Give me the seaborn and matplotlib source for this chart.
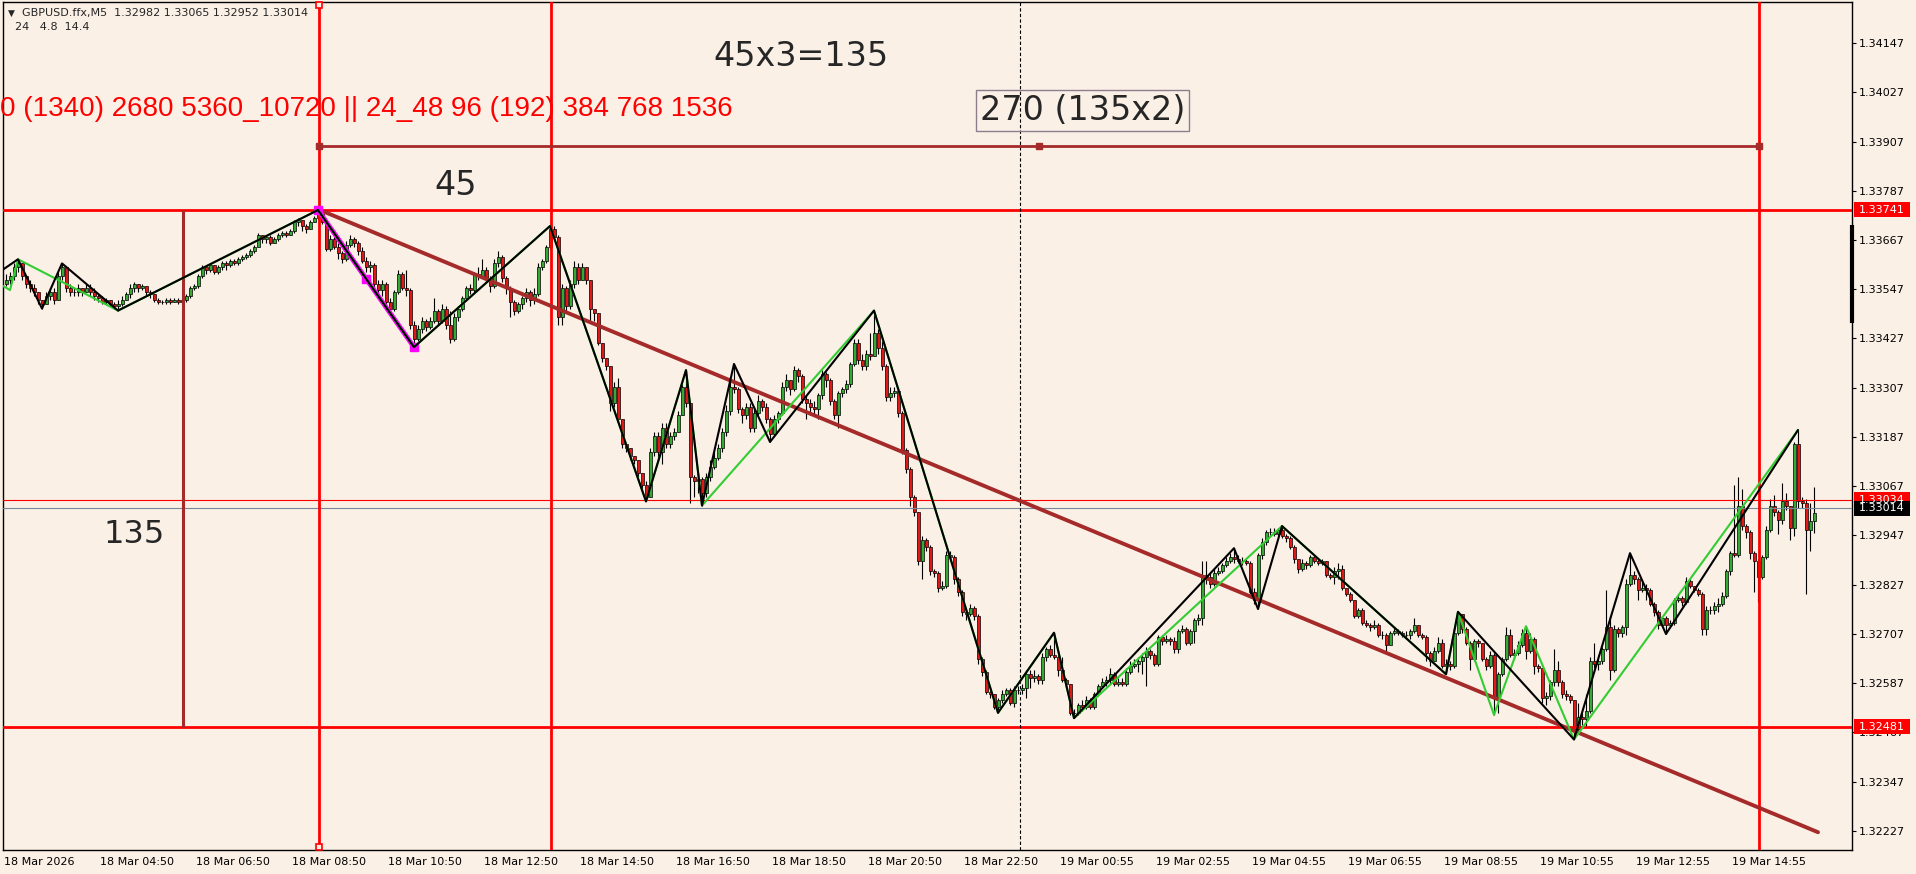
import numpy as np
import pandas as pd
import matplotlib
matplotlib.use("Agg")
import matplotlib.pyplot as plt
from matplotlib import transforms
from matplotlib.patches import Rectangle
import seaborn as sns

# ---- data (prices in pips above 1.32000) ----
symbol_info = "GBPUSD.ffx,M5  1.32982 1.33065 1.32952 1.33014"
indicator_info = "24   4.8  14.4"

first_open = 156
closes = [
    157, 158, 160, 161, 158, 156, 155, 154, 152, 151,
    153, 154, 152, 158, 160, 155, 154, 154, 155, 154,
    155, 154, 153, 152.5, 151.5, 152, 151, 150.5, 151, 152,
    153.5, 155, 156, 155, 155.5, 154, 153.5, 152, 151.5, 151.5,
    152, 151.5, 152, 151.5, 152, 153, 155, 155.5, 158, 160,
    159.5, 160.5, 159, 160, 161, 160.5, 161.5, 161, 162, 162.5,
    163, 164, 165, 168, 167, 167.5, 166, 167, 168, 168.5,
    168, 169, 171, 171.5, 170, 169.5, 171, 172, 173, 171,
    164.5, 167, 165, 163.5, 162, 165.5, 167, 166, 164, 161.5,
    160, 160.5, 156, 154.5, 156, 151.5, 150, 154, 158.5, 155,
    154.5, 146, 142.5, 145, 147, 145.5, 147, 149.5, 147, 150,
    146, 142.5, 148, 150, 152.5, 155, 154.5, 158.5, 158, 159.5,
    157.5, 155.5, 161, 162.5, 157.5, 155, 151.5, 149.5, 151, 152.5,
    154, 152, 153.5, 160, 161.5, 165, 169.5, 167.5, 148, 155,
    150.5, 156, 160, 157, 160, 157, 150, 149, 141.5, 138,
    136, 127, 131, 123, 117, 116, 114, 113, 110, 107,
    104, 115, 119, 115, 121, 117, 119, 120, 124, 131,
    127, 109, 108, 108.5, 105, 109, 111.5, 113.5, 116, 120,
    125, 131, 130.5, 125.5, 124, 126, 121, 124.5, 127.5, 126,
    123, 119.5, 123, 124.5, 131, 132.5, 130.5, 135, 133.5, 128,
    127, 126, 125.5, 129, 134, 132.5, 127.5, 124, 129.5, 130.5,
    131.5, 136.5, 141.5, 137.5, 136, 139, 138.5, 144, 140.5, 136,
    128.5, 129.5, 130, 124.5, 115.5, 111, 104, 100.5, 88.5, 93.5,
    92, 86, 85.5, 82, 82.5, 90, 89.5, 84, 81, 76,
    75.5, 77, 75, 64.5, 61.5, 56.5, 56, 53, 54.5, 56,
    57, 54, 57, 57, 57.5, 61, 60, 60.5, 59.5, 65,
    67, 65.5, 65, 62, 59.5, 58.5, 51.5, 51.5, 53.5, 53,
    54.5, 53, 56, 58, 59, 59.5, 61, 58.5, 59, 58.5,
    61.5, 63, 63.5, 64, 65, 66.5, 65.5, 63.5, 70, 69,
    69.5, 69, 67, 71.5, 72, 68.5, 71.5, 74, 74.5, 85,
    84.5, 83, 85.5, 86, 87.5, 88.5, 89.5, 89, 88.5, 88.5,
    88, 81, 79, 90, 93, 95.5, 95.5, 95, 96, 94.5,
    94, 92, 89, 86.5, 88, 87.5, 89.5, 88.5, 88, 88.5,
    85, 84.5, 86, 86.5, 82, 80.5, 79, 75, 76.5, 73.5,
    73, 72.5, 73, 70.5, 70.5, 68, 71, 71.5, 71, 70.5,
    70.5, 71.5, 73, 70.5, 70, 66, 64, 66.5, 68.5, 63,
    63.5, 63, 71, 75.5, 72, 68.5, 64.5, 69, 68.5, 64.5,
    63, 65.5, 55, 61, 64.5, 70.5, 65.5, 66, 68, 71,
    66.5, 69.5, 63, 62.5, 55, 55.5, 59, 62, 59, 56,
    55.5, 54.5, 47.5, 50.5, 50, 52, 64, 63.5, 64, 67,
    72.5, 62, 72, 71, 72.5, 83, 85, 84, 81.5, 82,
    81.5, 78, 76, 73, 74.5, 73, 73.5, 79, 79.5, 78.5,
    83.5, 82.5, 81.5, 80.5, 72, 76.5, 76.5, 77.5, 78, 80,
    86, 90.5, 90, 102, 97, 95.5, 90.5, 88.5, 84.5, 89.5,
    96, 102, 100.5, 98.5, 103, 102, 96.5, 117, 103, 102.5,
    96, 98.2, 100.1,
]
highs = [
    158.5, 159, 161, 162, 161, 158, 157, 156, 154, 152,
    154, 155, 155, 159, 161, 160, 156, 155, 156, 155,
    156, 156, 155, 153.5, 153, 152.5, 152, 151.5, 152, 153,
    154, 156, 156.5, 156, 156, 155.5, 154.5, 153.5, 152.5, 152,
    152.5, 152.5, 152.5, 152.5, 152.5, 153.5, 155.5, 156, 158.5, 160.5,
    160.5, 161, 160.5, 160.5, 161.5, 161.5, 162, 162, 162.5, 163,
    163.5, 164.5, 165.5, 168.5, 168, 168, 168, 167.5, 168.5, 169,
    169, 169.5, 171.5, 172, 171.5, 170.5, 171.5, 172.5, 174, 173.5,
    172, 168, 167.5, 166, 164, 166.5, 168, 167.5, 166.5, 165,
    162.5, 161.5, 161, 157, 157, 156.5, 152.5, 154.5, 159.5, 159,
    159.5, 155, 147, 146, 148, 147.5, 148, 152.5, 150, 151,
    150.5, 149.5, 149, 150.5, 153, 155.5, 156, 159, 160, 162,
    160, 158, 162, 164, 163, 158, 155.5, 152, 151.5, 153,
    155, 154.5, 155, 161, 162, 165.5, 170.1, 170, 168, 156,
    155.5, 157, 161.5, 161, 161, 160, 157, 150, 149, 141.5,
    138, 136, 132, 133, 123, 117, 116, 114, 113, 110,
    108, 116, 120, 120, 122, 122, 120, 121, 125, 131.5,
    135, 127, 109.5, 110, 109, 110, 113, 115, 117, 121,
    126.5, 132, 136.5, 131, 126, 127, 127, 126, 129, 128,
    127, 123.5, 124, 125, 132, 134, 132.5, 136, 135.5, 134,
    129, 128, 127.5, 129.5, 135, 134.5, 133, 128, 130, 131,
    132.5, 137, 142.5, 142.5, 139, 140, 144, 149.5, 145, 142,
    136.5, 131, 131, 131, 125, 116, 111.5, 104.5, 100.5, 94.5,
    94, 92.5, 86.5, 86, 83.5, 91, 91, 90, 84.5, 81.5,
    77, 78, 77.5, 75.5, 65, 62, 57, 56, 55, 57,
    57.5, 57.5, 58, 58, 58.5, 62, 62, 62, 61, 66,
    67.5, 68, 71, 65.5, 65, 60, 58.5, 52.5, 54, 54.5,
    55.5, 55, 56.5, 58.5, 60, 60.5, 62.5, 61.5, 60, 60,
    62.5, 64, 64.5, 65, 66, 67.5, 67, 66, 70.5, 70.5,
    70.5, 70, 70, 72, 73, 72.5, 72, 74.5, 75.5, 88.5,
    88.5, 85.5, 86.5, 87, 88, 89.5, 90.5, 91.6, 90, 89.5,
    89, 88.5, 82, 90.5, 94, 96, 96.5, 96.5, 96.5, 97,
    95, 94.5, 92.5, 89, 89, 88.5, 90, 90, 89, 89,
    88.5, 85.5, 87, 88, 87.5, 82, 81, 79, 77, 77,
    74, 73.5, 74, 73.5, 71.5, 71, 71.5, 72.5, 72, 71.5,
    71.5, 72, 74.5, 73, 71, 70.5, 66.5, 67.5, 70, 69.5,
    64.5, 64, 71.5, 76.1, 75.5, 72.5, 69, 69.5, 69.5, 68.5,
    65, 66.5, 66, 61.5, 65, 72.5, 72, 67, 69, 72,
    72.6, 71, 70, 63.5, 62.5, 56.5, 59.5, 67, 64, 59.5,
    57, 56, 54.5, 54, 51.5, 56, 65, 68.5, 65.5, 67.5,
    81.5, 75, 73, 72.5, 73, 84, 90.4, 86, 84.5, 83.5,
    83, 82, 78.5, 76.5, 75, 75, 74, 79.5, 80.5, 80,
    84.5, 84, 82.5, 82, 81, 77.5, 77.5, 78.5, 79.5, 81,
    86.5, 91, 107, 109, 106, 97.5, 96, 91, 89, 90,
    97, 103.5, 104.5, 101, 107.5, 105, 102, 117.5, 120.4, 104,
    103.5, 102.5, 106.5,
]
lows = [
    155.5, 156, 157, 159, 157, 155, 154, 153, 151, 150,
    151, 152, 151, 152, 157, 154, 153, 153, 153, 153,
    154, 153, 152, 151.5, 151, 151, 150.5, 150, 149.5, 150.5,
    152, 152.5, 154, 154, 154.5, 153, 152.5, 151.5, 151, 151,
    151, 151, 151.5, 151, 151, 151.5, 152.5, 154.5, 155, 157.5,
    158.5, 159, 158.5, 158.5, 159.5, 159.5, 160, 160.5, 160.5, 161.5,
    162, 162.5, 163.5, 165, 166, 166, 165.5, 166, 166.5, 167.5,
    167.5, 168, 168.5, 170, 169, 168.5, 169.5, 171, 171.5, 170.5,
    164, 164, 164.5, 162, 161, 161.5, 165, 165, 163, 161,
    159, 159, 155, 153.5, 153, 150.5, 148.5, 149.5, 153.5, 154.5,
    153, 145, 140.6, 142, 144, 144.5, 145, 146.5, 146, 146.5,
    145, 141.5, 142, 147, 149.5, 152, 153.5, 154, 157, 157.5,
    156.5, 154, 155, 160, 156.5, 153.5, 148, 148.5, 149, 150,
    151.5, 150.5, 151, 153, 159.5, 161, 164.5, 167, 146, 146,
    149.5, 150, 155, 156, 157, 156, 147, 147, 141, 137,
    135, 125, 126, 122, 116, 115, 113, 112, 109, 106,
    103, 104, 114, 113, 112, 116, 116, 118, 120, 124,
    126, 102.5, 104, 105, 102, 104, 108, 111, 113, 115,
    119, 124, 129.5, 124.5, 122, 123, 120, 120, 124, 125,
    122, 117.5, 119, 122, 124, 130, 129, 130, 132, 127,
    123, 124, 124, 123, 128, 131, 126.5, 123, 121, 128.5,
    129.5, 131, 136, 136.5, 135, 135, 137.5, 138.5, 139, 135,
    127.5, 127.5, 128.5, 123.5, 114.5, 110, 102, 99.5, 87.5, 84,
    91, 85, 84.5, 81, 81.5, 82, 88.5, 83, 80, 75,
    74, 75, 74, 63.5, 60.5, 56, 55, 52.5, 51.5, 54,
    55.5, 53.5, 53, 56, 56, 55, 57.5, 59, 58.5, 58.5,
    64, 65, 64.5, 60.5, 59, 57.5, 51, 50.2, 51, 52,
    52.5, 52.5, 52.5, 55.5, 57.5, 58, 58.5, 58, 58, 58,
    58, 61, 62.5, 61.5, 61, 58, 64.5, 63, 63, 68,
    68.5, 68, 66, 66, 71, 68, 68, 68.5, 73, 73,
    83, 82, 82.5, 85, 85.5, 87, 88, 88, 88, 87.5,
    87.5, 80.5, 78, 76.8, 89, 92.5, 94.5, 94.5, 94.5, 94,
    93, 91.5, 88, 85.5, 86, 86.5, 87, 88, 87.5, 87.5,
    84.5, 84, 83, 84, 81.5, 80, 78.5, 74.5, 74.5, 73,
    72.5, 71.5, 72, 70, 69.5, 66, 68, 70.5, 70.5, 70,
    69.5, 69.5, 71, 70, 69.5, 64, 63, 64, 66, 62.5,
    60.9, 62, 62.5, 70.5, 71, 68, 62, 64, 67.5, 64,
    62, 62.5, 51, 51.5, 60.5, 64, 65, 64.5, 65.5, 67.5,
    64.5, 66, 61, 61.5, 54, 53.5, 54.5, 58, 58, 55,
    54.5, 54, 45, 46.5, 48.5, 48, 51.5, 62.5, 62, 63.5,
    66.5, 59.5, 61.5, 70, 70, 70.5, 82.5, 83, 79, 81,
    79, 77.5, 75, 72, 72.5, 70.7, 72.5, 73, 78.5, 77.5,
    78, 82, 81, 80, 70.5, 70.5, 75.5, 75.5, 76, 77.5,
    79.5, 85, 89.5, 89.5, 96, 94, 89, 81, 78.5, 84,
    89, 95.5, 99.5, 95, 97.5, 101, 93.5, 94.5, 101.5, 101.5,
    80.5, 91, 95.2,
]

time_labels = ["18 Mar 2026", "18 Mar 04:50", "18 Mar 06:50", "18 Mar 08:50",
               "18 Mar 10:50", "18 Mar 12:50", "18 Mar 14:50", "18 Mar 16:50",
               "18 Mar 18:50", "18 Mar 20:50", "18 Mar 22:50", "19 Mar 00:55",
               "19 Mar 02:55", "19 Mar 04:55", "19 Mar 06:55", "19 Mar 08:55",
               "19 Mar 10:55", "19 Mar 12:55", "19 Mar 14:55"]
price_ticks = [1.34147, 1.34027, 1.33907, 1.33787, 1.33667, 1.33547, 1.33427,
               1.33307, 1.33187, 1.33067, 1.32947, 1.32827, 1.32707, 1.32587,
               1.32467, 1.32347, 1.32227]

# zigzag indicators (bar index, pips)
zz_bars = [-0.75, 3, 9, 14, 28, 78, 102, 136, 160, 170, 174, 182, 191, 217, 248,
           262, 267, 307, 313, 319, 360, 363, 392, 406, 415, 448]
zz_pips = [159.5, 162, 150, 161, 149.5, 174, 140.6, 170.1, 103, 135, 102, 136.5,
           117.5, 149.5, 51.5, 71, 50.2, 91.6, 76.8, 97, 60.9, 76.1, 45, 90.4, 70.7, 120.4]
green_bars = [-0.75, 1, 3, 28, 78, 102, 136, 160, 170, 174, 217, 248, 262, 267,
              319, 360, 363, 372, 380, 392, 448]
green_pips = [155.5, 154.5, 162, 149.5, 174, 140.6, 170.1, 103, 135, 102, 149.5,
              51.5, 71, 50.2, 97, 60.9, 76.1, 51, 72.6, 45, 120.4]

# chart objects
level_top = 1.33741
level_bottom = 1.32481
ask_price = 1.33034
bid_price = 1.33014
red_vlines = [78.25, 136.25, 438.25]
brown_vline = 44.25
separator_bar = 253.5
span_price = 1.33896
span_bars = [78.25, 258.25, 438.25]
trend_bars = [78.25, 453]
trend_prices = [1.33741, 1.32224]
magenta_bars = [78, 90, 102]
magenta_prices = [1.33740, 1.33573, 1.33406]

bg = "#FAF0E6"
bull = "#36A836"
bear = "#E01818"
brown = "#A52A2A"

sns.set_style("white", {"axes.facecolor": bg, "figure.facecolor": bg,
                        "axes.edgecolor": "black"})
plt.rcParams["font.family"] = ["DejaVu Sans"]

fig = plt.figure(figsize=(19.16, 8.74), dpi=100)
ax = fig.add_axes([3 / 1916, 24 / 874, 1849 / 1916, 848 / 874])
ax.set_facecolor(bg)


def to_price(v):
    return 1.32 + np.asarray(v, dtype=float) / 10000


df = pd.DataFrame({"close": closes, "high": highs, "low": lows})
df["open"] = [first_open] + closes[:-1]
o, c = to_price(df["open"]), to_price(df["close"])
h = np.maximum(to_price(df["high"]), np.maximum(o, c))
l = np.minimum(to_price(df["low"]), np.minimum(o, c))
idx = np.arange(len(df))

# candles
ax.vlines(idx, l, h, color="black", lw=0.8, zorder=2)
ax.bar(idx, np.abs(c - o), bottom=np.minimum(o, c), width=0.75,
       color=np.where(c > o, bull, bear), edgecolor="black", linewidth=0.5, zorder=2.2)

# objects
ax.axhline(level_top, color="red", lw=2, zorder=3)
ax.axhline(level_bottom, color="red", lw=2, zorder=3)
ax.axhline(ask_price, color="red", lw=0.8, zorder=3)
ax.axhline(bid_price, color="#778899", lw=0.8, zorder=3)
for xb in red_vlines:
    ax.axvline(xb, color="red", lw=2, zorder=3)
ax.vlines(brown_vline, level_bottom, level_top, color=brown, lw=2.2, zorder=3)
ax.axvline(separator_bar, color="black", lw=0.8, ls=(0, (3, 2)), zorder=3)
ax.hlines(span_price, span_bars[0], span_bars[-1], color=brown, lw=2, zorder=3)
ax.plot(span_bars, [span_price] * 3, ls="none", marker="s", ms=5,
        mfc=brown, mec=brown, zorder=3.5)
sns.lineplot(x=trend_bars, y=trend_prices, color=brown, lw=2.8, ax=ax, zorder=3)
sns.lineplot(x=magenta_bars, y=magenta_prices, color="magenta", lw=3.5, ax=ax, zorder=3)
ax.plot(magenta_bars, magenta_prices, ls="none", marker="s", ms=6,
        mfc="magenta", mec="magenta", zorder=3.5)
top_trans = transforms.blended_transform_factory(ax.transData, ax.transAxes)
ax.plot([red_vlines[0]] * 2, [0.996, 0.004], ls="none", marker="s", ms=5,
        mfc=bg, mec="red", mew=1.2, transform=top_trans, zorder=3.5, clip_on=False)

# zigzags
sns.lineplot(x=green_bars, y=to_price(green_pips), sort=False, estimator=None,
             color="#32CD32", lw=1.5, ax=ax, zorder=4)
sns.lineplot(x=zz_bars, y=to_price(zz_pips), sort=False, estimator=None,
             color="black", lw=1.5, ax=ax, zorder=4.5)

# axes
ax.set_xlim(-0.75, 461.5)
ax.set_ylim(1.321807, 1.342469)
ax.set_xlabel("")
ax.set_ylabel("")
ax.yaxis.tick_right()
ax.set_yticks(price_ticks)
ax.set_yticklabels([f"{v:.5f}" for v in price_ticks])
ax.set_xticks([24 * k - 0.5 for k in range(len(time_labels))])
ax.set_xticklabels(time_labels)
for lab in ax.get_xticklabels():
    lab.set_ha("left")
ax.tick_params(axis="x", direction="out", length=3.5, width=0.8, pad=1.5,
               labelsize=8, colors="black")
ax.tick_params(axis="y", direction="out", length=3, width=0.8, pad=2,
               labelsize=8, colors="black")
for sp in ax.spines.values():
    sp.set_color("black")
    sp.set_linewidth(1)

# right side price labels
side = transforms.blended_transform_factory(ax.transAxes, ax.transData)
box_h = 15 / 41041


def price_box(price, face):
    ax.add_patch(Rectangle((1.001, price - box_h / 2), 0.0305, box_h, transform=side,
                           facecolor=face, edgecolor="none", clip_on=False, zorder=6))
    ax.text(1.0035, price, f"{price:.5f}", transform=side, color="white", fontsize=8,
            va="center", ha="left", clip_on=False, zorder=7)


price_box(level_top, "red")
price_box(level_bottom, "red")
price_box(ask_price, "red")
price_box(bid_price, "black")
ax.plot([1, 1], [1.33703, 1.33465], transform=side, color="black", lw=3,
        clip_on=False, zorder=6, solid_capstyle="butt")

# annotations
ax.text(176.75, to_price(209.1), "45x3=135", fontsize=24, ha="left", va="baseline", zorder=6)
ax.text(107, to_price(177.7), "45", fontsize=24, ha="left", va="baseline", zorder=6)
ax.text(24.25, to_price(92.9), "135", fontsize=23, ha="left", va="baseline", zorder=6)
ax.text(243.5, to_price(196.0), "270 (135x2)", fontsize=24, ha="left", va="baseline",
        zorder=6, bbox=dict(boxstyle="square,pad=0.12", fc="none", ec="#8C7E8C", lw=1))
ax.text(-1.4, to_price(196.9), "0 (1340) 2680 5360_10720 || 24_48 96 (192) 384 768 1536",
        fontsize=20, family="Liberation Sans", color="red", ha="left", va="baseline", zorder=6)

fig.text(8 / 1916, 1 - 13 / 874, "\u25bc", fontsize=6.5, va="center", ha="left")
fig.text(22 / 1916, 1 - 13 / 874, symbol_info, fontsize=8, va="center", ha="left")
fig.text(15 / 1916, 1 - 27 / 874, indicator_info, fontsize=8, va="center", ha="left")

fig.savefig("out.png", dpi=100, facecolor=bg)
